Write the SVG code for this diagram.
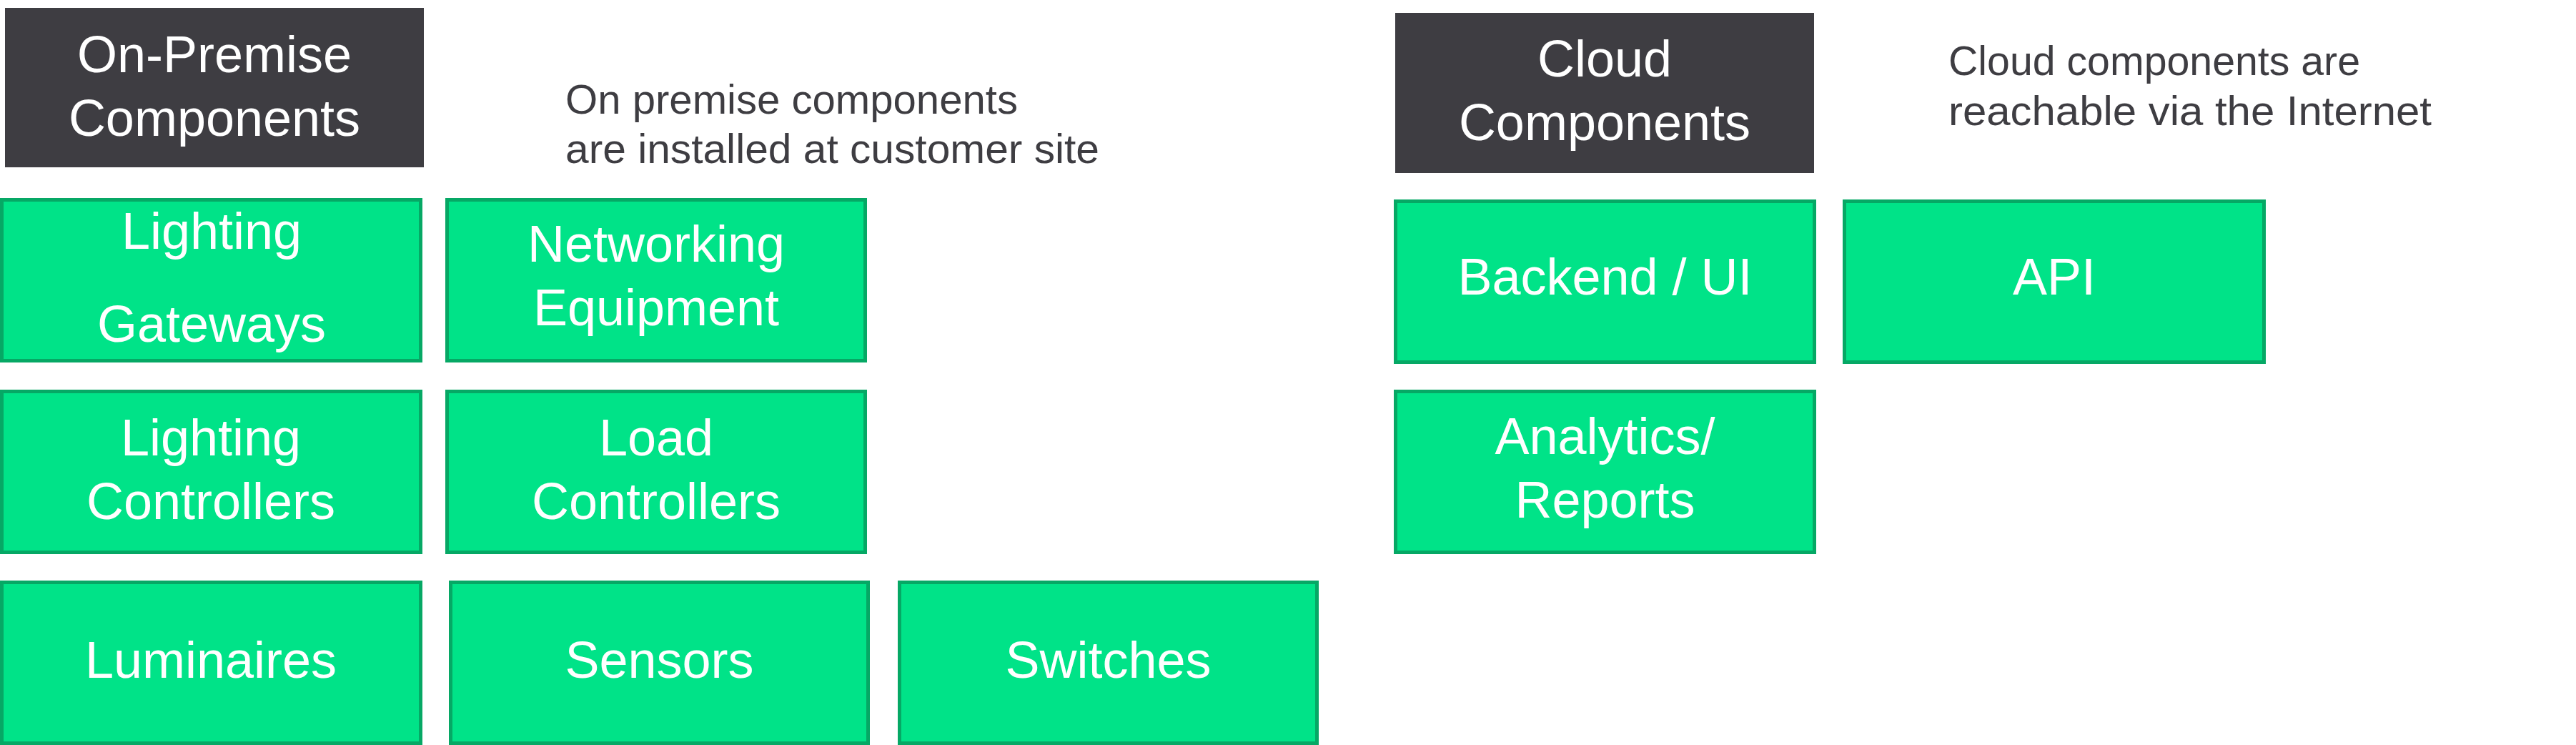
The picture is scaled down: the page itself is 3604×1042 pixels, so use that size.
<svg xmlns="http://www.w3.org/2000/svg" width="3604" height="1042" viewBox="0 0 3604 1042">
<style>
.bg{fill:#ffffff}
.hdr{fill:#3e3d42}
.box{fill:#00e388;stroke:#06a865;stroke-width:5}
.lbl{font-family:"Liberation Sans",Arial,sans-serif;font-size:72px;fill:#ffffff;text-anchor:middle}
.desc{font-family:"Liberation Sans",Arial,sans-serif;font-size:58px;fill:#3e3d42}
</style>
<rect class="bg" x="0" y="0" width="3604" height="1042"/>
<g id="hdr-onprem">
<rect class="hdr" x="7" y="11" width="586" height="223"/>
<text class="lbl" x="300" y="101">On-Premise</text>
<text class="lbl" x="300" y="190">Components</text>
</g>
<g id="desc-onprem">
<text class="desc" x="791" y="159" textLength="633" lengthAdjust="spacingAndGlyphs">On premise components</text>
<text class="desc" x="791" y="228" textLength="747" lengthAdjust="spacingAndGlyphs">are installed at customer site</text>
</g>
<g id="lighting-gateways">
<rect class="box" x="2.5" y="279.5" width="586" height="225"/>
<text class="lbl" x="296" y="348">Lighting</text>
<text class="lbl" x="296" y="478">Gateways</text>
</g>
<g id="networking-equipment">
<rect class="box" x="625.5" y="279.5" width="585" height="225"/>
<text class="lbl" x="918" y="366">Networking</text>
<text class="lbl" x="918" y="455">Equipment</text>
</g>
<g id="lighting-controllers">
<rect class="box" x="2.5" y="547.5" width="586" height="225"/>
<text class="lbl" x="295" y="637">Lighting</text>
<text class="lbl" x="295" y="726">Controllers</text>
</g>
<g id="load-controllers">
<rect class="box" x="625.5" y="547.5" width="585" height="225"/>
<text class="lbl" x="918" y="637">Load</text>
<text class="lbl" x="918" y="726">Controllers</text>
</g>
<g id="luminaires">
<rect class="box" x="2.5" y="814.5" width="586" height="225"/>
<text class="lbl" x="295" y="948">Luminaires</text>
</g>
<g id="sensors">
<rect class="box" x="630.5" y="814.5" width="584" height="225"/>
<text class="lbl" x="922.5" y="948">Sensors</text>
</g>
<g id="switches">
<rect class="box" x="1258.5" y="814.5" width="584" height="225"/>
<text class="lbl" x="1550.5" y="948">Switches</text>
</g>
<g id="hdr-cloud">
<rect class="hdr" x="1952" y="18" width="586" height="224"/>
<text class="lbl" x="2245" y="107">Cloud</text>
<text class="lbl" x="2245" y="196">Components</text>
</g>
<g id="desc-cloud">
<text class="desc" x="2726" y="105" textLength="576" lengthAdjust="spacingAndGlyphs">Cloud components are</text>
<text class="desc" x="2726" y="175" textLength="676" lengthAdjust="spacingAndGlyphs">reachable via the Internet</text>
</g>
<g id="backend-ui">
<rect class="box" x="1952.5" y="281.5" width="586" height="225"/>
<text class="lbl" x="2245.5" y="412">Backend / UI</text>
</g>
<g id="api">
<rect class="box" x="2580.5" y="281.5" width="587" height="225"/>
<text class="lbl" x="2874" y="412">API</text>
</g>
<g id="analytics-reports">
<rect class="box" x="1952.5" y="547.5" width="586" height="225"/>
<text class="lbl" x="2245.5" y="635">Analytics/</text>
<text class="lbl" x="2245.5" y="724">Reports</text>
</g>
<g id="connectors"/>
</svg>
